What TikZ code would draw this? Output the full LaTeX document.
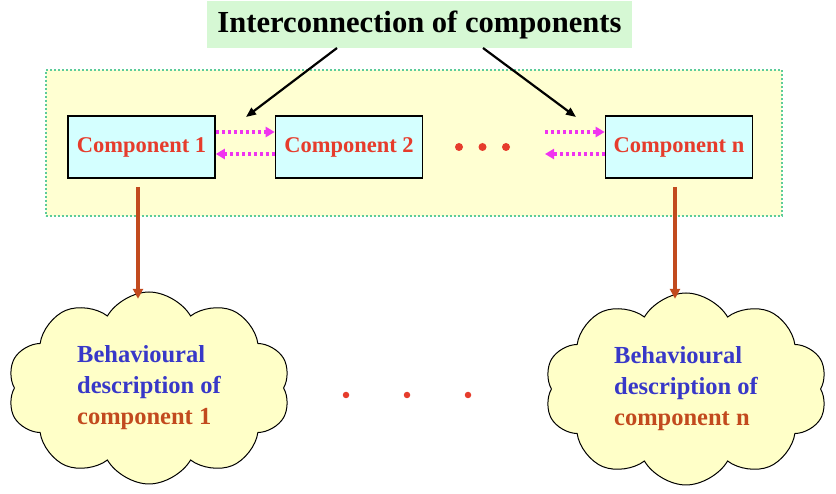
\documentclass[tikz,border=0pt]{standalone}
\usepackage{fontspec}
\setmainfont{Liberation Serif}
\usetikzlibrary{arrows.meta,shapes.symbols}
\definecolor{titlegreen}{HTML}{D6F8D4}
\definecolor{paleyellow}{HTML}{FFFFD2}
\definecolor{cloudyellow}{HTML}{FFFFC8}
\definecolor{framegreen}{HTML}{5CCC99}
\definecolor{compcyan}{HTML}{D4FFFF}
\definecolor{compred}{HTML}{E63C2C}
\definecolor{descblue}{HTML}{3838C8}
\definecolor{descbrown}{HTML}{C24A1E}
\definecolor{magentaline}{HTML}{F033F0}
\tikzset{
  comp/.style={draw=black, line width=1.6pt, fill=compcyan, minimum width=147pt, minimum height=62pt, inner sep=0pt,
    text=compred, font=\bfseries\fontsize{22.5}{26}\selectfont},
  behcloud/.style={cloud, cloud puffs=10, cloud puff arc=120, cloud ignores aspect, draw=black, line width=1pt,
    fill=cloudyellow, minimum width=283pt, minimum height=192pt, inner sep=0pt, align=left,
    font=\bfseries\fontsize{24.5}{31}\selectfont},
  blackarrow/.style={draw=black, line width=2.2pt, -{Triangle[length=10pt,width=8pt]}},
  brownarrow/.style={draw=descbrown, line width=3.6pt, -{Triangle[length=10pt,width=10pt]}},
  magarrow/.style={draw=magentaline, line width=3.4pt, dash pattern=on 3pt off 3pt, -{Triangle[length=9pt,width=10pt]}},
  reddot/.style={circle, fill=compred, inner sep=0pt, minimum size=8pt},
  smalldot/.style={circle, fill=compred, inner sep=0pt, minimum size=6.5pt}
}
\begin{document}
\begin{tikzpicture}[x=1pt,y=-1pt]
\useasboundingbox (0,0) rectangle (836,494);
% frame
\node[draw=framegreen, line width=2pt, dash pattern=on 2pt off 2pt, fill=paleyellow,
  minimum width=736pt, minimum height=146pt, inner sep=0pt] (frame) at (413.5,143) {};
% title
\node[fill=titlegreen, minimum width=425pt, minimum height=47pt, inner sep=0pt,
  font=\bfseries\fontsize{30.6}{34}\selectfont] (title) at (419.5,24.5) {Interconnection of components};
% components
\node[comp] (c1) at (141.5,147) {\raisebox{-2pt}{Component 1}};
\node[comp] (c2) at (349,147) {\raisebox{-2pt}{Component 2}};
\node[comp] (cn) at (679,147) {\raisebox{-2pt}{Component n}};
% dots in frame
\node[reddot] (d1) at (459,147) {};
\node[reddot] (d2) at (482.5,147) {};
\node[reddot] (d3) at (506,147) {};
% arrows from title
\coordinate (ta) at (337,48);
\coordinate (tb) at (483,48);
\coordinate (ha) at (246,117);
\coordinate (hb) at (576,117);
\draw[blackarrow] (ta) -- (ha);
\draw[blackarrow] (tb) -- (hb);
% magenta interconnections
\draw[magarrow] ([yshift=15pt]c1.east) -- ([yshift=15pt]c2.west);
\draw[magarrow] ([yshift=-7pt]c2.west) -- ([yshift=-7pt]c1.east);
\coordinate (ma) at (545,132);
\coordinate (mb) at (545,154);
\draw[magarrow] (ma) -- ([yshift=15pt]cn.west);
\draw[magarrow] ([yshift=-7pt]cn.west) -- (mb);
% clouds
\node[behcloud] (b1) at (149,388) {\textcolor{descblue}{Behavioural}\\\textcolor{descblue}{description of}\\\textcolor{descbrown}{component 1}};
\node[behcloud] (bn) at (686,389) {\textcolor{descblue}{Behavioural}\\\textcolor{descblue}{description of}\\\textcolor{descbrown}{component n}};
% brown arrows
\draw[brownarrow] ([xshift=-3.5pt,yshift=-8pt]c1.south) -- ++(0,112);
\draw[brownarrow] ([xshift=-4pt,yshift=-8pt]cn.south) -- ++(0,112);
% dots between clouds
\node[smalldot] (e1) at (346,395) {};
\node[smalldot] (e2) at (407,395) {};
\node[smalldot] (e3) at (468,395) {};
\end{tikzpicture}
\end{document}
